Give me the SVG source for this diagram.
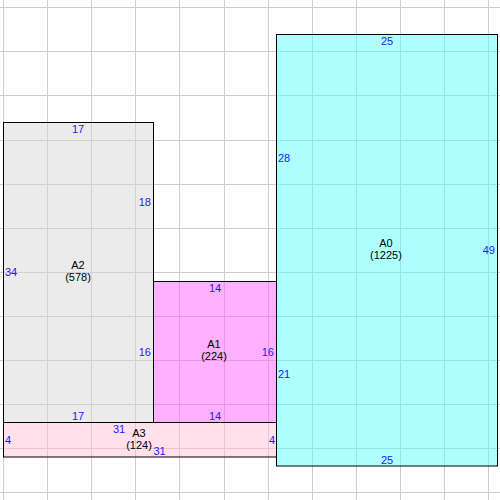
<svg xmlns="http://www.w3.org/2000/svg" width="500" height="500" viewBox="0 0 500 500">
<style>
.box{stroke:#000;stroke-width:1}
.fill{fill-opacity:0.5}
.grid line{stroke:#cccccc;stroke-width:1}
text{font-family:"Liberation Sans",Arial,sans-serif;font-size:11px}
.name{fill:#000;text-anchor:middle}
.dim{fill:#1a1aff}
.m{text-anchor:middle}
.e{text-anchor:end}
</style>
<rect width="500" height="500" fill="#fff"/>
<g class="grid">
<line x1="3.5" y1="0" x2="3.5" y2="500"/>
<line x1="47.5" y1="0" x2="47.5" y2="500"/>
<line x1="91.5" y1="0" x2="91.5" y2="500"/>
<line x1="135.5" y1="0" x2="135.5" y2="500"/>
<line x1="179.5" y1="0" x2="179.5" y2="500"/>
<line x1="224.5" y1="0" x2="224.5" y2="500"/>
<line x1="268.5" y1="0" x2="268.5" y2="500"/>
<line x1="312.5" y1="0" x2="312.5" y2="500"/>
<line x1="356.5" y1="0" x2="356.5" y2="500"/>
<line x1="400.5" y1="0" x2="400.5" y2="500"/>
<line x1="444.5" y1="0" x2="444.5" y2="500"/>
<line x1="488.5" y1="0" x2="488.5" y2="500"/>
<line x1="0" y1="7.5" x2="500" y2="7.5"/>
<line x1="0" y1="51.5" x2="500" y2="51.5"/>
<line x1="0" y1="95.5" x2="500" y2="95.5"/>
<line x1="0" y1="140.5" x2="500" y2="140.5"/>
<line x1="0" y1="184.5" x2="500" y2="184.5"/>
<line x1="0" y1="228.5" x2="500" y2="228.5"/>
<line x1="0" y1="272.5" x2="500" y2="272.5"/>
<line x1="0" y1="316.5" x2="500" y2="316.5"/>
<line x1="0" y1="360.5" x2="500" y2="360.5"/>
<line x1="0" y1="404.5" x2="500" y2="404.5"/>
<line x1="0" y1="448.5" x2="500" y2="448.5"/>
<line x1="0" y1="492.5" x2="500" y2="492.5"/>
</g>
<g id="A2">
<rect class="box fill" x="3.5" y="122.5" width="150" height="300" fill="#d7d7d7"/>
<text class="name" x="78" y="269">A2</text>
<text class="name" x="78" y="281">(578)</text>
<text class="dim m" x="78" y="133">17</text>
<text class="dim e" x="151" y="206">18</text>
<text class="dim" x="5" y="276">34</text>
<text class="dim e" x="151" y="356">16</text>
<text class="dim m" x="78" y="420">17</text>
</g>
<g id="A1">
<rect class="box fill" x="153.5" y="281.5" width="123" height="141" fill="#ff61ff"/>
<text class="name" x="214" y="348">A1</text>
<text class="name" x="214" y="360">(224)</text>
<text class="dim m" x="215" y="292">14</text>
<text class="dim e" x="274" y="356">16</text>
<text class="dim m" x="215" y="420">14</text>
</g>
<g id="A3">
<rect class="box fill" x="3.5" y="422.5" width="273" height="34.5" fill="#ffc3d9"/>
<text class="name" x="139" y="437">A3</text>
<text class="name" x="139" y="449">(124)</text>
<text class="dim m" x="119" y="433">31</text>
<text class="dim m" x="159.5" y="455">31</text>
<text class="dim" x="5" y="444">4</text>
<text class="dim e" x="275" y="444">4</text>
</g>
<g id="A0">
<rect class="box fill" x="276.5" y="34.5" width="221" height="431.5" fill="#61ffff"/>
<text class="name" x="386" y="247">A0</text>
<text class="name" x="386" y="259">(1225)</text>
<text class="dim m" x="387" y="45">25</text>
<text class="dim" x="278" y="162">28</text>
<text class="dim e" x="495" y="254">49</text>
<text class="dim" x="278" y="378">21</text>
<text class="dim m" x="387" y="464">25</text>
</g>
<g id="connectors"></g>
</svg>
